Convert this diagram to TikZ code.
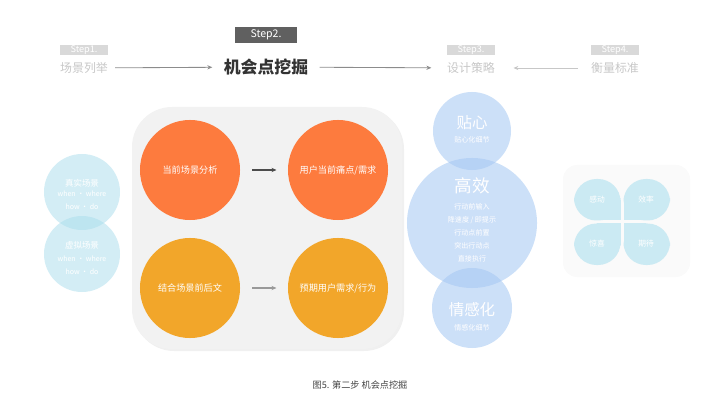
\documentclass[tikz,border=0pt]{standalone}
\usepackage{fontspec}
\setmainfont{Noto Sans CJK SC}
\usetikzlibrary{arrows.meta, positioning, calc}
\definecolor{hotorange}{HTML}{FD7B3E}
\definecolor{warmorange}{HTML}{F2A62A}
\definecolor{skyblue}{HTML}{A3C6F2}
\definecolor{iceblue}{HTML}{A8DCEB}
\definecolor{panelgray}{HTML}{F2F2F2}
\definecolor{stepgray}{HTML}{D9D9D9}
\definecolor{darkstep}{HTML}{606060}
\tikzset{
  steptag/.style={fill=stepgray, text=white, font=\fontsize{6.5}{6.5}\selectfont, minimum width=1.18cm, minimum height=0.27cm, inner sep=0pt},
  stagetext/.style={text=black!22, font=\fontsize{8.5}{9}\selectfont, inner sep=1pt},
  flowarrow/.style={-{Stealth[length=3.5pt,width=3pt]}, draw=black!45, line width=0.6pt},
  idea/.style={circle, minimum size=2.5cm, text=white, font=\fontsize{6.5}{7}\selectfont, inner sep=0pt},
  bubble/.style={circle, fill=skyblue, fill opacity=0.55, inner sep=0pt},
  scenebubble/.style={circle, fill=iceblue, fill opacity=0.5, minimum size=1.9cm, inner sep=0pt},
  bubtitle/.style={text=white, inner sep=0pt},
  bubnote/.style={text=white, font=\fontsize{5}{9.2}\selectfont, inner sep=0pt, align=center},
  petal/.style={fill=iceblue!60},
  petaltext/.style={text=white, font=\fontsize{5.5}{6}\selectfont, inner sep=0pt},
}

\begin{document}
\begin{tikzpicture}[x=0.025cm, y=-0.025cm]
    \useasboundingbox (0,0) rectangle (720,405);

    \node[stagetext] (s1) at (84,68) {场景列举};
    \node[steptag] (t1) at (84,50) {Step1.};
    \node[text=black!80, font=\fontsize{12}{12}\selectfont\bfseries, inner sep=1pt] (s2) at (266,67) {机会点挖掘};
    \node[steptag, fill=darkstep, minimum width=1.55cm, minimum height=0.4cm, font=\fontsize{7.5}{8}\selectfont] (t2) at (266,35) {Step2.};
    \node[stagetext] (s3) at (471,68) {设计策略};
    \node[steptag] (t3) at (471,50) {Step3.};
    \node[stagetext] (s4) at (615,68) {衡量标准};
    \node[steptag] (t4) at (615,50) {Step4.};
    \draw[flowarrow, shorten <=4pt, shorten >=7pt] (s1) -- (s2);
    \draw[flowarrow, shorten <=7pt, shorten >=10pt] (s2) -- (s3);
    \draw[flowarrow, draw=black!22, shorten <=8pt, shorten >=12pt] (s4) -- (s3);

    \fill[black!6, rounded corners=1cm] (134,109) rectangle (404,351);
    \fill[panelgray, rounded corners=1cm] (132,107) rectangle (402,349);
    \node[idea, fill=hotorange] (cur) at (190,170) {当前场景分析};
    \node[idea, fill=hotorange] (pain) at (338,170) {用户当前痛点/需求};
    \node[idea, fill=warmorange] (ctx) at (190,288) {结合场景前后文};
    \node[idea, fill=warmorange] (expect) at (338,288) {预期用户需求/行为};
    \draw[flowarrow, draw=black!70, line width=0.8pt, shorten <=8.5pt, shorten >=8pt] (cur) -- (pain);
    \draw[flowarrow, draw=black!40, line width=0.8pt, shorten <=8.5pt, shorten >=8pt] (ctx) -- (expect);

    \node[scenebubble] (real) at (82,192) {};
    \node[scenebubble] (virtual) at (82,254) {};
    \node[bubtitle, font=\fontsize{6}{6}\selectfont] (real-t) at (82,183) {真实场景};
    \node[bubnote] (real-n) at (82,200) {when · where\\how · do};
    \node[bubtitle, font=\fontsize{6}{6}\selectfont] (virtual-t) at (82,245) {虚拟场景};
    \node[bubnote] (virtual-n) at (82,265) {when · where\\how · do};

    \node[bubble, minimum size=1.95cm] (tiexin) at (472,131) {};
    \node[bubble, minimum size=3.25cm] (gaoxiao) at (472,223) {};
    \node[bubble, minimum size=2cm] (qinggan) at (472,308) {};
    \node[bubtitle, font=\fontsize{11}{11}\selectfont] (tiexin-t) at (472,123) {贴心};
    \node[bubnote] (tiexin-n) at (472,140) {贴心化细节};
    \node[bubtitle, font=\fontsize{12.5}{12.5}\selectfont] (gaoxiao-t) at (472,186) {高效};
    \node[bubnote] (gaoxiao-n) at (472,233) {行动前输入\\降速度 / 即提示\\行动点前置\\突出行动点\\直接执行};
    \node[bubtitle, font=\fontsize{11}{11}\selectfont] (qinggan-t) at (472,310) {情感化};
    \node[bubnote] (qinggan-n) at (472,328) {情感化细节};

    \fill[black!2, rounded corners=0.35cm] (563,165) rectangle (690,277);
    \fill[petal, rounded corners=0.56cm] (574,179) rectangle (620.5,220.5);
    \fill[petal] (597,200) rectangle (620.5,220.5);
    \fill[petal, rounded corners=0.56cm] (623.5,179) rectangle (670,220.5);
    \fill[petal] (623.5,200) rectangle (646,220.5);
    \fill[petal, rounded corners=0.56cm] (574,223.5) rectangle (620.5,265);
    \fill[petal] (597,223.5) rectangle (620.5,245);
    \fill[petal, rounded corners=0.56cm] (623.5,223.5) rectangle (670,265);
    \fill[petal] (623.5,223.5) rectangle (646,245);
    \node[petaltext] (touch) at (597,200) {感动};
    \node[petaltext] (speed) at (646,200) {效率};
    \node[petaltext] (surprise) at (597,244) {惊喜};
    \node[petaltext] (hope) at (646,244) {期待};

    \node[text=black!75, font=\fontsize{6.5}{7}\selectfont] (cap) at (360,385) {图5. 第二步 机会点挖掘};
\end{tikzpicture}
\end{document}
